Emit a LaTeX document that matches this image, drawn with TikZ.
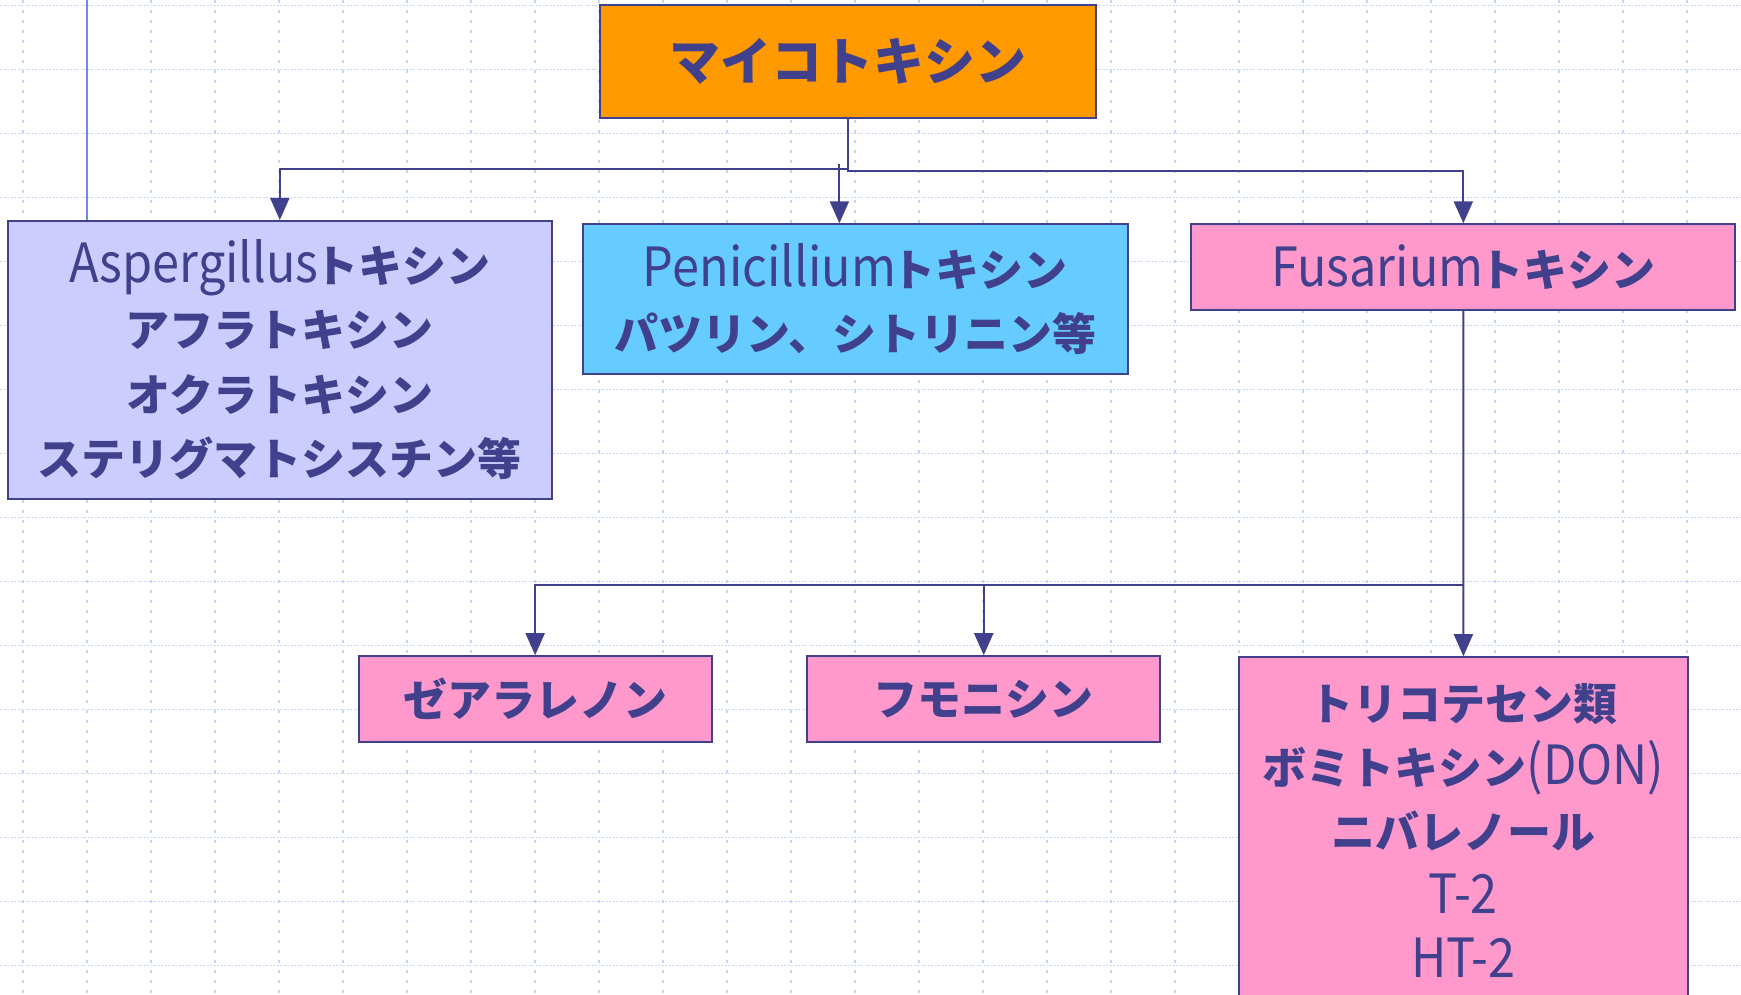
\documentclass[tikz,border=0pt]{standalone}
\usepackage{fontspec}
\usetikzlibrary{arrows.meta}
\newfontfamily\jp{Noto Sans CJK JP}[BoldFont={Noto Sans CJK JP Black}]
\newfontfamily\latf[FakeStretch=0.9]{Noto Sans CJK JP}
\newcommand\LatTxt[1]{{\latf\mdseries\fontsize{54}{64.4}\selectfont #1}}
\definecolor{navy}{RGB}{64,64,140}
\definecolor{gridc}{RGB}{198,212,246}
\definecolor{blueln}{RGB}{110,140,230}
\definecolor{orangeF}{HTML}{FF9900}
\definecolor{lilacF}{HTML}{CCCCFF}
\definecolor{cyanF}{HTML}{66CCFF}
\definecolor{pinkF}{HTML}{FF99CC}
\tikzset{
  box/.style={draw=navy, line width=2pt, inner sep=0pt, align=center, text=navy,
    font=\jp\bfseries\fontsize{44}{64.4}\selectfont},
  conn/.style={draw=navy, line width=2pt},
  arr/.style={conn, -{Triangle[length=22pt,width=19pt]}},
  gridh/.style={draw=gridc, line width=1.5pt, dash pattern=on 2pt off 1.5pt},
  gridv/.style={draw=gridc, line width=1.5pt, dash pattern=on 3pt off 7pt},
}
\begin{document}
\begin{tikzpicture}[x=1pt,y=-1pt]
\fill[white] (0,0) rectangle (1741,995);
\useasboundingbox (0,0) rectangle (1741,995);
% grid
\foreach \x in {23,87,...,1741} \draw[gridv] (\x,0) -- (\x,995);
\foreach \y in {5.7,69.7,...,995} \draw[gridh] (0,\y) -- (1741,\y);
% boxes
\node[box, fill=orangeF, minimum width=496.3pt, minimum height=112.2pt,
  font=\jp\bfseries\fontsize{51}{60}\selectfont] (myco) at (847.75,61.6) {マイコトキシン};
\node[box, fill=lilacF, minimum width=544pt, minimum height=277.5pt] (asp) at (279.8,359.75)
  {\LatTxt{Aspergillus}\kern-4pt トキシン\\アフラトキシン\\オクラトキシン\\ステリグマトシスチン等};
\node[box, fill=cyanF, minimum width=545.1pt, minimum height=149.9pt] (pen) at (855.45,299.25)
  {\LatTxt{Penicillium}\kern-4pt トキシン\\パツリン、シトリニン等};
\node[box, fill=pinkF, minimum width=544.1pt, minimum height=85.5pt] (fus) at (1463.35,267.05)
  {\LatTxt{Fusarium}\kern-4pt トキシン};
\node[box, fill=pinkF, minimum width=353.1pt, minimum height=85.5pt] (zea) at (535.15,698.95)
  {ゼアラレノン};
\node[box, fill=pinkF, minimum width=353.1pt, minimum height=85.5pt] (fum) at (983.75,698.95)
  {フモニシン};
\node[box, fill=pinkF, minimum width=448.6pt, minimum height=346.4pt, anchor=north] (tri) at (1463.4,656.2)
  {トリコテセン類\\ボミトキシン\LatTxt{(DON)}\\ニバレノール\\\LatTxt{T-2}\\\LatTxt{HT-2}};
% light blue line
\coordinate (bl) at (86.6,0);
\draw[draw=blueln, line width=2pt] (bl) -- (bl |- asp.north);
% connectors
\draw[arr] (myco.south) -- (myco.south |- 0,171) -| (fus.north);
\draw[arr] (myco.south |- 0,169) -| (asp.north);
\coordinate (pstart) at (839.4,164.3);
\draw[arr] (pstart) -- (pstart |- pen.north);
\draw[arr] (fus.south) -- (tri.north);
\coordinate (fj) at (fus.south |- 0,585.1);
\draw[arr] (fj) -| (zea.north);
\draw[arr] (fum.north |- fj) -- (fum.north);
\end{tikzpicture}
\end{document}
